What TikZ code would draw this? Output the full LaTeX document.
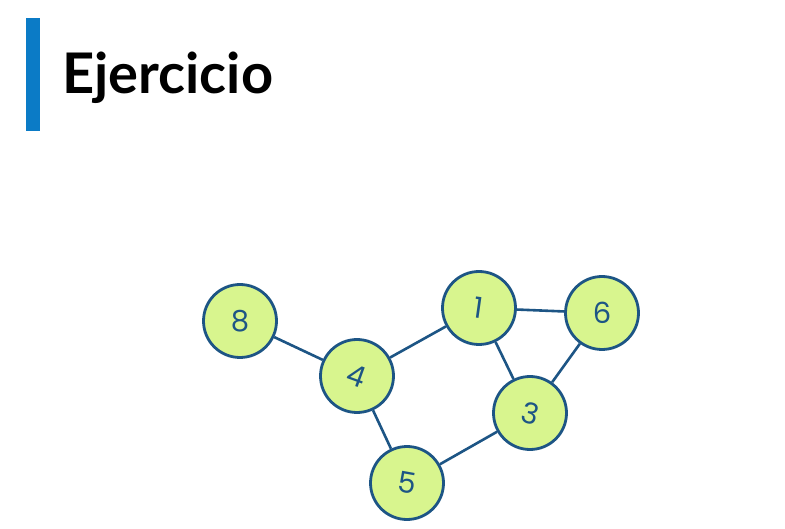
\documentclass[tikz,border=0pt]{standalone}
\usepackage{fontspec}
\setmainfont{Lato}
\newfontfamily\numfont{Poppins}
\begin{document}
\begin{tikzpicture}[x=1pt,y=-1pt,
  vertex/.style={circle,draw=edgeblue,fill=nodegreen,line width=2.8pt,
    minimum size=73pt,inner sep=0pt,font=\numfont\fontsize{29}{29}\selectfont,text=edgeblue},
  link/.style={draw=edgeblue,line width=2.6pt}]
\definecolor{edgeblue}{HTML}{1D5585}
\definecolor{nodegreen}{HTML}{D8F58E}
\definecolor{barblue}{HTML}{0B7BC6}
\useasboundingbox[fill=white] (0,0) rectangle (785,529);
% title block
\fill[barblue] (26,18) rectangle (40,131);
\node[anchor=base west,inner sep=0pt,font=\bfseries\fontsize{56}{56}\selectfont] (title) at (62,94) {Ejercicio};
% vertices
\node[vertex] (n8) at (240,321) {8};
\node[vertex] (n4) at (357,376) {\rotatebox{-20}{4}};
\node[vertex] (n1) at (479,308) {\rotatebox{-8}{1}};
\node[vertex] (n6) at (602,313) {6};
\node[vertex] (n3) at (530,413) {\rotatebox{-15}{3}};
\node[vertex] (n5) at (407,483) {\rotatebox{-10}{5}};
% edges
\draw[link] (n8) -- (n4);
\draw[link] (n4) -- (n1);
\draw[link] (n4) -- (n5);
\draw[link] (n1) -- (n6);
\draw[link] (n1) -- (n3);
\draw[link] (n6) -- (n3);
\draw[link] (n3) -- (n5);
\end{tikzpicture}
\end{document}
